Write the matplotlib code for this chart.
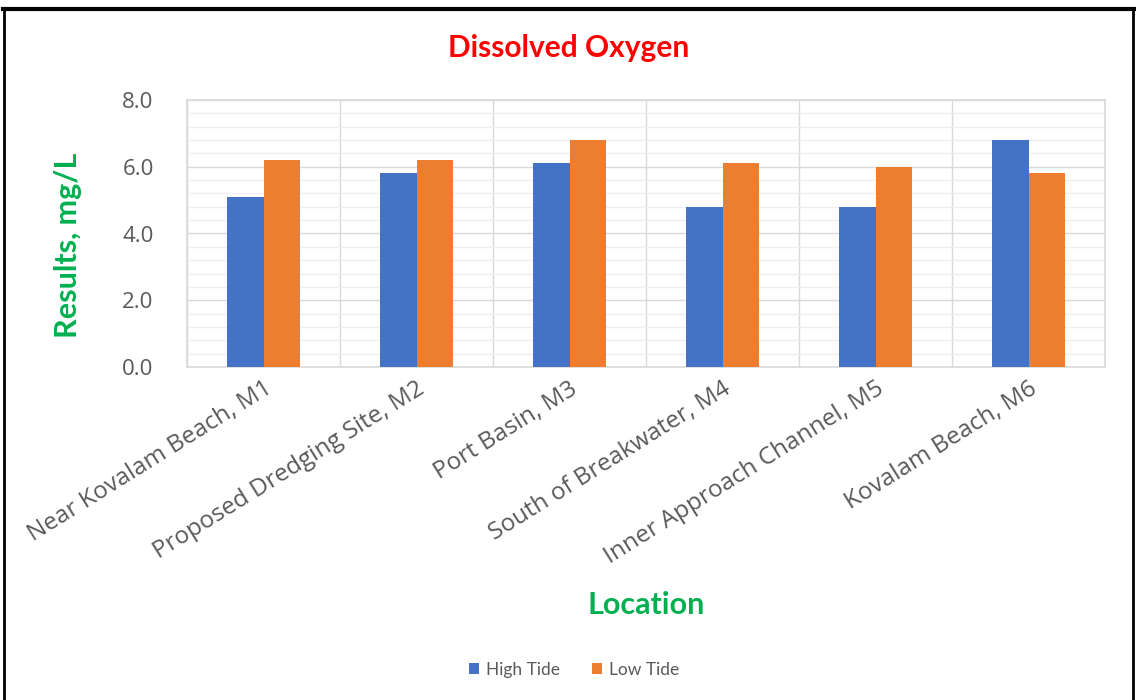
import numpy as np
import matplotlib
matplotlib.use('Agg')
import matplotlib.pyplot as plt
from matplotlib.ticker import MultipleLocator
from matplotlib.lines import Line2D

locations = ['Near Kovalam Beach, M1', 'Proposed Dredging Site, M2', 'Port Basin, M3',
             'South of Breakwater, M4', 'Inner Approach Channel, M5', 'Kovalam Beach, M6']
high_tide = [5.1, 5.8, 6.1, 4.8, 4.8, 6.8]
low_tide = [6.2, 6.2, 6.8, 6.1, 6.0, 5.8]
series_names = ['High Tide', 'Low Tide']
yticks = [0, 2, 4, 6, 8]

blue = '#4472C4'
orange = '#ED7D31'
tick_col = '#595959'
green = '#00B050'

fig = plt.figure(figsize=(11.36, 7), dpi=100)
ax = fig.add_axes([187/1136, 1-367/700, (1105-187)/1136, (367-100)/700])

x = np.arange(len(locations))
w = 0.236
ax.bar(x - w/2, high_tide, w, color=blue, label=series_names[0], zorder=3)
ax.bar(x + w/2, low_tide, w, color=orange, label=series_names[1], zorder=3)

ax.set_xlim(-0.5, len(locations) - 0.5)
ax.set_ylim(0, 8)
ax.set_yticks(yticks)
ax.set_yticklabels(['%.1f' % v for v in yticks], fontsize=16, color=tick_col, family='Open Sans')
ax.yaxis.set_minor_locator(MultipleLocator(0.4))

# vertical lines between categories
ax.set_xticks(np.arange(-0.5, len(locations), 1), minor=True)
ax.set_xticks(x)
ax.set_xticklabels(locations, rotation=32, ha='right', va='top', rotation_mode='anchor',
                   fontsize=17.5, color=tick_col, family='Open Sans')

ax.grid(which='major', axis='y', color='#d9d9d9', lw=1.0, zorder=0)
ax.grid(which='minor', axis='y', color='#efefef', lw=1.0, zorder=0)
ax.grid(which='minor', axis='x', color='#d9d9d9', lw=1.0, zorder=0)
ax.tick_params(which='both', length=0)
ax.tick_params(axis='y', pad=24)
ax.tick_params(axis='x', pad=7)
for s in ax.spines.values():
    s.set_color('#d9d9d9')
    s.set_linewidth(1.2)

fig.text(68/1136, 1-245/700, 'Results, mg/L', fontsize=22, fontweight='bold', color=green,
         family='Lato', ha='center', va='center', rotation=90)
fig.text(569/1136, 1-48/700, 'Dissolved Oxygen', fontsize=21.5, fontweight='bold', color='red',
         family='Lato', ha='center', va='center')
fig.text(646/1136, 1-605/700, 'Location', fontsize=22, fontweight='bold', color=green,
         family='Lato', ha='center', va='center')

fig.legend(loc='center', bbox_to_anchor=(574/1136, 1-670/700), ncol=2, frameon=False,
           prop={'family': 'Lato', 'size': 12.5}, labelcolor=tick_col,
           handlelength=0.6, handleheight=0.6, handletextpad=0.4, columnspacing=1.8)

# outer frame
fig.add_artist(Line2D([4/1136, 4/1136], [0, 1-9/700], color='black', lw=2, transform=fig.transFigure))
fig.add_artist(Line2D([1133/1136, 1133/1136], [0, 1-9/700], color='black', lw=2, transform=fig.transFigure))
fig.add_artist(Line2D([3/1136, 1134/1136], [1-9/700, 1-9/700], color='black', lw=3, transform=fig.transFigure))

fig.savefig('out.png', dpi=100)
